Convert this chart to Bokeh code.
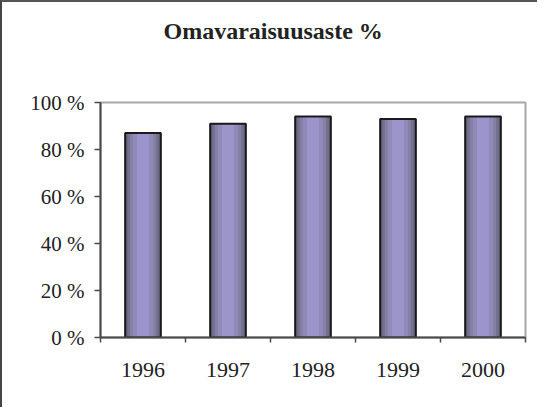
from bokeh.plotting import figure
from bokeh.models import Range1d, FixedTicker, PrintfTickFormatter, ColumnDataSource, Title
from bokeh.embed import file_html
from bokeh.resources import INLINE

title = "Omavaraisuusaste %"
years = ["1996", "1997", "1998", "1999", "2000"]
values = [87, 91, 94, 93, 94]
y_ticks = [0, 20, 40, 60, 80, 100]

xs = list(range(len(years)))
src = ColumnDataSource(dict(x=xs, top=values))

p = figure(width=537, height=407, output_backend="svg", toolbar_location=None,
           x_range=Range1d(-0.5, len(years) - 0.5), y_range=Range1d(0, 100),
           min_border_left=98, min_border_right=14, min_border_bottom=72, min_border_top=100)
p.styles = {"border-top": "2px solid #555555", "border-left": "2px solid #444444"}
p.border_fill_color = "white"

# spacer between title and plot area, then the title itself
p.add_layout(Title(text=" ", text_font_size="51px", standoff=0), "above")
p.add_layout(Title(text=title, text_font="Liberation Serif", text_font_size="24px",
                   text_font_style="bold", text_color="#222222", align="left",
                   offset=63, standoff=0), "above")

p.xgrid.grid_line_color = None
p.ygrid.grid_line_color = None
p.outline_line_color = "#a8a8a8"
p.outline_line_width = 2
p.background_fill_color = "white"

layers = [(0.42, "#64627a"), (0.37, "#72708e"), (0.31, "#8380a3"),
          (0.24, "#908ab8"), (0.14, "#9c95cb")]
for w, c in layers:
    p.vbar(x="x", top="top", bottom=0, width=w, source=src, fill_color=c, line_color=None)
p.vbar(x="x", top="top", bottom=0, width=0.42, source=src, fill_alpha=0,
       line_color="#1a1a1a", line_width=2)

ya = p.yaxis[0]
ya.ticker = FixedTicker(ticks=y_ticks)
ya.formatter = PrintfTickFormatter(format="%d %%")
ya.axis_line_color = "#4a4a4a"
ya.axis_line_width = 2
ya.major_tick_line_color = "#4a4a4a"
ya.major_tick_line_width = 1.5
ya.major_tick_out = 6
ya.major_tick_in = 0
ya.minor_tick_line_color = None
ya.major_label_text_font = "Liberation Serif"
ya.major_label_text_font_size = "21px"
ya.major_label_text_color = "#222222"
ya.major_label_standoff = 10

xa = p.xaxis[0]
xa.ticker = FixedTicker(ticks=xs, minor_ticks=[i - 0.5 for i in range(len(years) + 1)])
xa.major_label_overrides = {i: y for i, y in enumerate(years)}
xa.axis_line_color = "#4a4a4a"
xa.axis_line_width = 2
xa.major_tick_line_color = None
xa.major_tick_out = 0
xa.major_tick_in = 0
xa.minor_tick_line_color = "#4a4a4a"
xa.minor_tick_line_width = 1.5
xa.minor_tick_out = 5
xa.minor_tick_in = 0
xa.major_label_text_font = "Liberation Serif"
xa.major_label_text_font_size = "22px"
xa.major_label_text_color = "#222222"
xa.major_label_standoff = 20

open("out.html", "w").write(file_html(p, INLINE))
